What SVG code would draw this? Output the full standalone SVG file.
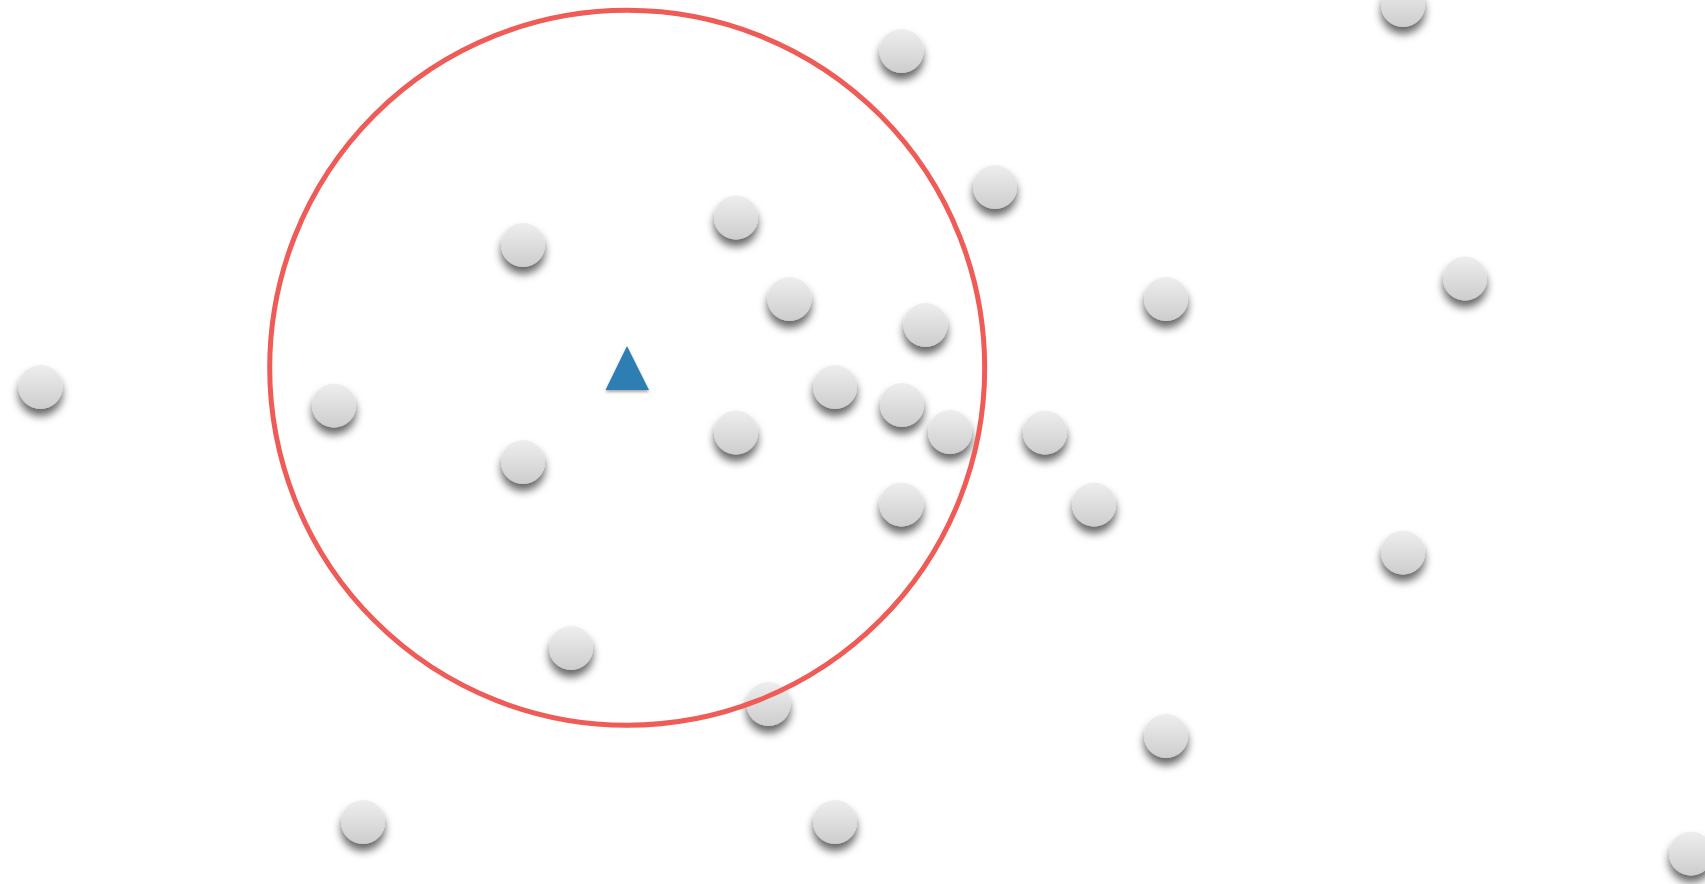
<svg xmlns="http://www.w3.org/2000/svg" xmlns:xlink="http://www.w3.org/1999/xlink" width="1705" height="884" viewBox="0 0 1705 884">
  <defs>
    <linearGradient id="ballGrad" x1="0" y1="0" x2="0" y2="1">
      <stop offset="0" stop-color="#eeeeee"/>
      <stop offset="1" stop-color="#cdcdcd"/>
    </linearGradient>
    <filter id="shadow" x="-60%" y="-60%" width="220%" height="240%">
      <feDropShadow dx="0" dy="7" stdDeviation="4" flood-color="#000" flood-opacity="0.6"/>
    </filter>
    <filter id="tshadow" x="-30%" y="-30%" width="160%" height="170%">
      <feDropShadow dx="0" dy="2" stdDeviation="1.5" flood-color="#000" flood-opacity="0.35"/>
    </filter>
    <circle id="ball" r="22" fill="url(#ballGrad)" filter="url(#shadow)"/>
  </defs>
  <style>
    .ring { fill: none; stroke: #ef5b57; stroke-width: 5; }
    .tri { fill: #2f7db3; filter: url(#tshadow); }
  </style>
  <rect width="1705" height="884" fill="#ffffff"/>
  <g id="balls">
    <g id="b1"><use xlink:href="#ball" x="1403" y="5"/></g>
    <g id="b2"><use xlink:href="#ball" x="901.5" y="51"/></g>
    <g id="b3"><use xlink:href="#ball" x="995" y="187"/></g>
    <g id="b4"><use xlink:href="#ball" x="736" y="217.5"/></g>
    <g id="b5"><use xlink:href="#ball" x="523" y="245"/></g>
    <g id="b6"><use xlink:href="#ball" x="789.5" y="299"/></g>
    <g id="b7"><use xlink:href="#ball" x="1166" y="299"/></g>
    <g id="b8"><use xlink:href="#ball" x="1465" y="278.5"/></g>
    <g id="b9"><use xlink:href="#ball" x="925.5" y="325"/></g>
    <g id="b10"><use xlink:href="#ball" x="40.5" y="387"/></g>
    <g id="b11"><use xlink:href="#ball" x="334" y="405.5"/></g>
    <g id="b12"><use xlink:href="#ball" x="835" y="387"/></g>
    <g id="b13"><use xlink:href="#ball" x="902" y="405"/></g>
    <g id="b14"><use xlink:href="#ball" x="950" y="432"/></g>
    <g id="b15"><use xlink:href="#ball" x="1045" y="432.5"/></g>
    <g id="b16"><use xlink:href="#ball" x="736" y="432.5"/></g>
    <g id="b17"><use xlink:href="#ball" x="523" y="462"/></g>
    <g id="b18"><use xlink:href="#ball" x="901.5" y="504.5"/></g>
    <g id="b19"><use xlink:href="#ball" x="1094" y="504.5"/></g>
    <g id="b20"><use xlink:href="#ball" x="1403" y="552.5"/></g>
    <g id="b21"><use xlink:href="#ball" x="571" y="648"/></g>
    <g id="b22"><use xlink:href="#ball" x="768.5" y="704"/></g>
    <g id="b23"><use xlink:href="#ball" x="1166" y="736"/></g>
    <g id="b24"><use xlink:href="#ball" x="363" y="822"/></g>
    <g id="b25"><use xlink:href="#ball" x="835" y="822"/></g>
    <g id="b26"><use xlink:href="#ball" x="1691" y="853.5"/></g>
  </g>
  <g id="center">
    <polygon class="tri" points="627,346 649,390 605.5,390"/>
  </g>
  <g id="connectors"></g>
  <g id="radius">
    <circle class="ring" cx="627.2" cy="367.8" r="357.5"/>
  </g>
</svg>
